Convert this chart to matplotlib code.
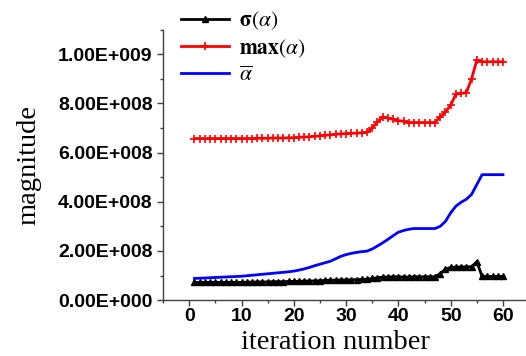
import numpy as np
import matplotlib
matplotlib.use("Agg")
import matplotlib.pyplot as plt
from matplotlib.ticker import FuncFormatter, MultipleLocator

# data (values in units of 1e8)
iteration = list(range(1, 61))

sigma_alpha = [0.72] * 10 + [
    0.73, 0.73, 0.74, 0.74, 0.74, 0.75, 0.75, 0.75, 0.76, 0.76,
    0.77, 0.77, 0.78, 0.78, 0.79, 0.80, 0.81, 0.81, 0.82, 0.82,
    0.83, 0.83, 0.84, 0.85, 0.88, 0.91,
    0.93, 0.94, 0.95, 0.95, 0.94, 0.94, 0.95, 0.95, 0.95, 0.95, 0.95,
    1.08, 1.26, 1.33, 1.34, 1.35, 1.35, 1.36, 1.56,
    0.96, 0.96, 0.96, 0.96, 0.96,
]

max_alpha = [
    6.57, 6.57, 6.57, 6.57, 6.57, 6.57, 6.57, 6.57, 6.57, 6.57,
    6.57, 6.57, 6.58, 6.58, 6.58, 6.59, 6.59, 6.59, 6.60, 6.60,
    6.62, 6.63, 6.64, 6.66, 6.68, 6.70, 6.72, 6.74, 6.76, 6.77,
    6.78, 6.79, 6.80, 6.82, 7.00, 7.25, 7.44, 7.40, 7.35, 7.30,
    7.27, 7.22, 7.22, 7.22, 7.22, 7.22, 7.22, 7.45, 7.65, 7.93,
    8.37, 8.40, 8.44, 9.00, 9.76, 9.69, 9.69, 9.69, 9.69, 9.69,
]

mean_alpha = [
    0.88, 0.89, 0.90, 0.91, 0.92, 0.93, 0.94, 0.95, 0.96, 0.97,
    0.99, 1.01, 1.03, 1.05, 1.07, 1.09, 1.11, 1.13, 1.15, 1.18,
    1.22, 1.27, 1.33, 1.40, 1.46, 1.52, 1.58, 1.68, 1.78, 1.85,
    1.90, 1.94, 1.97, 1.99, 2.08, 2.20, 2.33, 2.47, 2.62, 2.76,
    2.83, 2.88, 2.91, 2.91, 2.91, 2.91, 2.91, 3.00, 3.20, 3.55,
    3.82, 3.98, 4.10, 4.30, 4.70, 5.10, 5.10, 5.10, 5.10, 5.10,
]

scale = 1e8
plt.rcParams["mathtext.fontset"] = "stix"

fig = plt.figure(figsize=(5.26, 3.56), dpi=100)
ax = fig.add_axes([0.31, 0.157, 0.69, 0.76])

x = np.array(iteration)
ax.plot(x, np.array(sigma_alpha) * scale, color="black", lw=2, marker="^", ms=4.5,
        label=r"$\mathbf{\sigma}(\alpha)$")
ax.plot(x, np.array(max_alpha) * scale, color="red", lw=2, marker="+", ms=6, mew=1.2,
        label=r"$\mathbf{max}(\alpha)$")
ax.plot(x, np.array(mean_alpha) * scale, color="blue", lw=2,
        label=r"$\overline{\alpha}$")

ax.set_xlim(-5, 64.4)
ax.set_ylim(0, 1.1e9)
ax.xaxis.set_major_locator(MultipleLocator(10))
ax.xaxis.set_minor_locator(MultipleLocator(5))
ax.yaxis.set_major_locator(MultipleLocator(2e8))
ax.yaxis.set_minor_locator(MultipleLocator(1e8))


def sci(v, pos):
    if v == 0:
        return "0.00E+000"
    e = int(np.floor(np.log10(abs(v))))
    return f"{v / 10**e:.2f}E+{e:03d}"


ax.yaxis.set_major_formatter(FuncFormatter(sci))
for s in ("top", "right"):
    ax.spines[s].set_visible(False)
for s in ("left", "bottom"):
    ax.spines[s].set_color("0.25")
    ax.spines[s].set_linewidth(1.0)
ax.tick_params(which="major", direction="out", length=4, width=1, color="0.25")
ax.tick_params(which="minor", direction="out", length=2.5, width=1, color="0.25")
ax.tick_params(axis="x", which="major", pad=1.5)
for lab in ax.get_xticklabels() + ax.get_yticklabels():
    lab.set_fontfamily("Liberation Sans")
    lab.set_fontweight("bold")
    lab.set_fontsize(14)

ax.set_xlabel("iteration number", family="Liberation Serif", fontsize=20.5)
ax.xaxis.set_label_coords(0.474, -0.112)
ax.set_ylabel("magnitude", family="Liberation Serif", fontsize=20.5, labelpad=12)

fig.legend(loc="upper left", bbox_to_anchor=(0.335, 0.985), frameon=False,
           fontsize=15.5, handlelength=2.25, handletextpad=0.45, labelspacing=0.22,
           borderpad=0.2, borderaxespad=0)

fig.savefig("out.png", dpi=100)
